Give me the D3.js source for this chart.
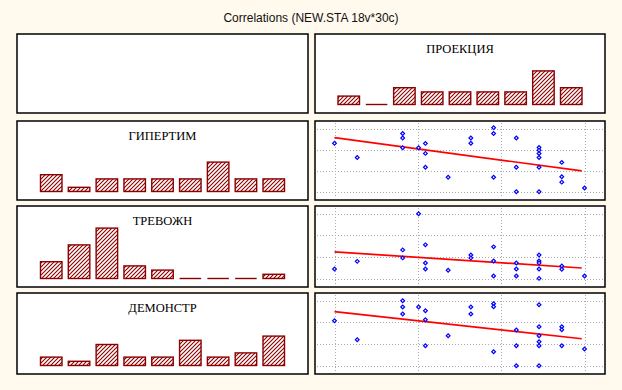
<!DOCTYPE html>
<html>
<head>
<meta charset="utf-8">
<script src="https://cdn.jsdelivr.net/npm/d3@7"></script>
<style>
  html, body { margin: 0; padding: 0; background: #fff9ee; }
  svg { display: block; }
</style>
</head>
<body>
<script>
// ---------- data ----------
const chartTitle = "Correlations (NEW.STA 18v*30c)";
const variables = ["ПРОЕКЦИЯ", "ГИПЕРТИМ", "ТРЕВОЖН", "ДЕМОНСТР"];

// histogram counts (9 bins, low -> high)
const projCounts  = [2, 0, 4, 3, 3, 3, 3, 8, 4];
const hyperCounts = [4, 1, 3, 3, 3, 3, 7, 3, 3];
const anxCounts   = [4, 8, 12, 3, 2, 0, 0, 0, 1];
const demoCounts  = [2, 1, 5, 2, 2, 6, 2, 3, 7];

// scatter points [ПРОЕКЦИЯ, variable] (axis units: x 0..11, y 0..12)
const hyperPoints = [[0,9.24],[1,6.53],[3,11.1],[3,10.24],[3,8.36],[3.7,8.36],[4,9.2],[4,7.3],[4,4.65],
  [5,2.76],[6,10.24],[6,9.24],[7,12.2],[7,11.1],[7,2.76],[8,10.24],[8,4.65],[8,0],
  [9,8.42],[9,7.9],[9,7.28],[9,6.53],[9,4.65],[9,0],[10,5.58],[10,2.83],[10,1.82],[11,0.7]];
const anxPoints = [[0,1.8],[1,3.2],[3,5.32],[3,3.84],[3.7,12],[4,6.25],[4,2.91],[4,1.8],[5,1.55],
  [6,4.39],[6,3.84],[7,5.88],[7,3.28],[7,0.5],[8,2.91],[8,1.8],[8,0.5],
  [9,4.39],[9,3.28],[9,2.91],[9,1.8],[9,0.06],[10,2.35],[10,1.73],[11,0.5]];
const demoPoints = [[0,8.31],[1,4.8],[3,12],[3,10.83],[3,9.54],[3.7,10.83],[4,10.15],[4,8.49],[4,3.69],
  [5,5.54],[6,10.83],[6,9.54],[7,11.45],[7,10.9],[7,2.58],[8,6.58],[8,3.69],[8,0],
  [9,11.26],[9,7.2],[9,5.54],[9,4.43],[9,3.69],[9,0],[10,7.2],[10,6.65],[10,3.69],[11,3.08]];

// regression line: y at start and end x
const fitX = [0, 10.88];
const hyperFit = [10.3, 3.95];
const anxFit = [4.95, 1.98];
const demoFit = [9.97, 4.98];

const xDomain = [0, 11];
const yDomain = [0, 12];
const xGrid = [0, 11/3, 22/3, 11];
const yGrid = [0, 4, 8, 12];

// ---------- layout ----------
const W = 622, H = 390;
const cols = [{x: 17, w: 291}, {x: 315, w: 290}];
const rows = [{y: 34, h: 79}, {y: 121, h: 79}, {y: 206, h: 81}, {y: 293, h: 81}];

const svg = d3.select("body").append("svg").attr("width", W).attr("height", H);
svg.append("rect").attr("width", W).attr("height", H).attr("fill", "#fff9ee");

const defs = svg.append("defs");
const pat = defs.append("pattern").attr("id", "hatch")
  .attr("patternUnits", "userSpaceOnUse").attr("width", 4).attr("height", 4);
pat.append("rect").attr("width", 4).attr("height", 4).attr("fill", "#ffffff");
pat.append("path").attr("d", "M-1,1 l2,-2 M0,4 l4,-4 M3,5 l2,-2")
  .attr("stroke", "#8b0000").attr("stroke-width", 1.1);

svg.append("text").attr("x", 311).attr("y", 22).attr("text-anchor", "middle")
  .attr("font-family", "Arial, 'Liberation Sans', sans-serif").attr("font-size", 12)
  .attr("fill", "#111").text(chartTitle);

function panel(c, r) {
  const col = cols[c], row = rows[r];
  const g = svg.append("g");
  g.append("rect").attr("x", col.x).attr("y", row.y).attr("width", col.w).attr("height", row.h)
    .attr("fill", "#ffffff").attr("stroke", "#000").attr("stroke-width", 1.5);
  return {g, x: col.x, y: row.y, w: col.w, h: row.h};
}

const countScaleMax = 12;
function histogram(p, counts, name) {
  const cx = p.x + p.w / 2;
  const xb = d3.scaleBand().domain(d3.range(counts.length)).range([cx - 122, cx + 122])
    .paddingInner(0.227).paddingOuter(0);
  const base = p.y + p.h - 8.5;
  const yc = d3.scaleLinear().domain([0, countScaleMax]).range([base, base - 50.4]);
  p.g.append("text").attr("x", cx).attr("y", p.y + 19).attr("text-anchor", "middle")
    .attr("font-family", "'Times New Roman', 'Liberation Serif', serif").attr("font-size", 12.5)
    .attr("fill", "#000").text(name);
  const nz = counts.map((d, i) => ({d, i}));
  p.g.selectAll("rect.bar").data(nz.filter(o => o.d > 0)).join("rect").attr("class", "bar")
    .attr("x", o => xb(o.i)).attr("width", xb.bandwidth())
    .attr("y", o => yc(o.d)).attr("height", o => base - yc(o.d))
    .attr("fill", "url(#hatch)").attr("stroke", "#8b0000").attr("stroke-width", 1.4);
  p.g.selectAll("line.zero").data(nz.filter(o => o.d === 0)).join("line").attr("class", "zero")
    .attr("x1", o => xb(o.i)).attr("x2", o => xb(o.i) + xb.bandwidth())
    .attr("y1", base).attr("y2", base)
    .attr("stroke", "#8b0000").attr("stroke-width", 1.4);
}

function scatter(p, pts, fit) {
  const x = d3.scaleLinear().domain(xDomain).range([p.x + 19.5, p.x + p.w - 20.5]);
  const y = d3.scaleLinear().domain(yDomain).range([p.y + p.h - 8.3, p.y + 7.7]);
  const grid = p.g.append("g").attr("stroke", "#aaaaaa").attr("stroke-width", 1)
    .attr("stroke-dasharray", "1,2").attr("shape-rendering", "crispEdges");
  grid.selectAll("line.v").data(xGrid).join("line").attr("class", "v")
    .attr("x1", d => Math.round(x(d)) + 0.5).attr("x2", d => Math.round(x(d)) + 0.5)
    .attr("y1", p.y + 2).attr("y2", p.y + p.h - 2);
  grid.selectAll("line.h").data(yGrid).join("line").attr("class", "h")
    .attr("y1", d => Math.round(y(d)) + 0.5).attr("y2", d => Math.round(y(d)) + 0.5)
    .attr("x1", p.x + 2).attr("x2", p.x + p.w - 2);
  p.g.append("line")
    .attr("x1", x(fitX[0])).attr("y1", y(fit[0]))
    .attr("x2", x(fitX[1])).attr("y2", y(fit[1]))
    .attr("stroke", "#ff0000").attr("stroke-width", 1.7);
  const sym = d3.symbol().type(d3.symbolSquare).size(7);
  p.g.selectAll("path.pt").data(pts).join("path").attr("class", "pt")
    .attr("d", sym)
    .attr("transform", d => `translate(${x(d[0])},${y(d[1])}) rotate(45)`)
    .attr("fill", "#ffffff").attr("stroke", "#0000ff").attr("stroke-width", 1.2);
}

panel(0, 0);
histogram(panel(1, 0), projCounts, variables[0]);
histogram(panel(0, 1), hyperCounts, variables[1]);
scatter(panel(1, 1), hyperPoints, hyperFit);
histogram(panel(0, 2), anxCounts, variables[2]);
scatter(panel(1, 2), anxPoints, anxFit);
histogram(panel(0, 3), demoCounts, variables[3]);
scatter(panel(1, 3), demoPoints, demoFit);
</script>
</body>
</html>
